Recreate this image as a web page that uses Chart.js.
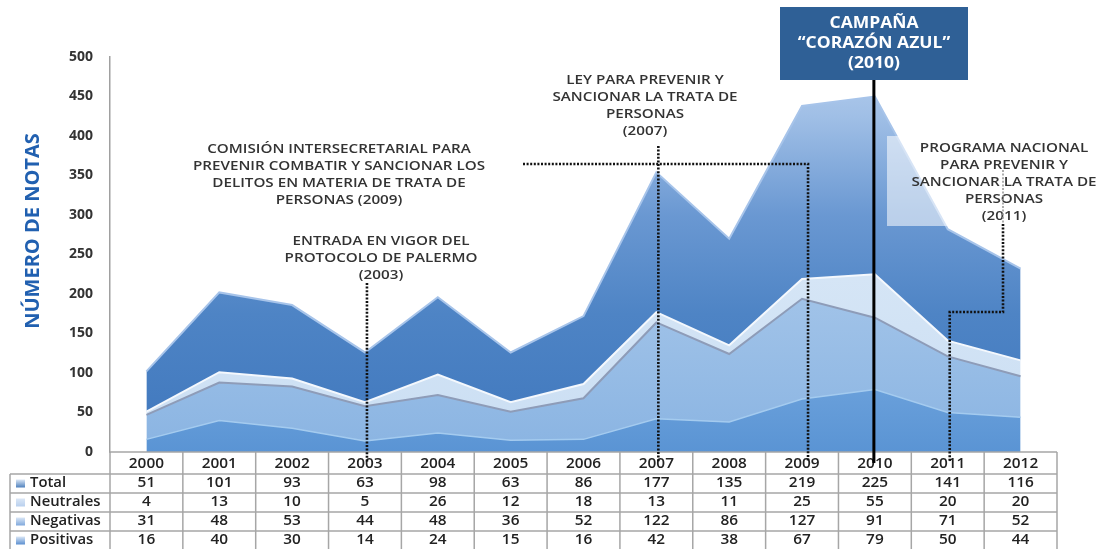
<!DOCTYPE html>
<html lang="es">
<head>
<meta charset="utf-8">
<title>Número de notas 2000-2012</title>
<script src="https://cdn.jsdelivr.net/npm/chart.js@4.4.1/dist/chart.umd.min.js"></script>
<style>
    html, body { margin: 0; padding: 0; background: #ffffff; }
    canvas { display: block; }
</style>
</head>
<body>
<canvas id="chartNotas" width="1102" height="549"></canvas>
<script>
(function () {
    'use strict';

    const years     = ['2000', '2001', '2002', '2003', '2004', '2005', '2006', '2007', '2008', '2009', '2010', '2011', '2012'];
    const positivas = [16, 40, 30, 14, 24, 15, 16, 42, 38, 67, 79, 50, 44];
    const negativas = [31, 48, 53, 44, 48, 36, 52, 122, 86, 127, 91, 71, 52];
    const neutrales = [4, 13, 10, 5, 26, 12, 18, 13, 11, 25, 55, 20, 20];
    const total     = [51, 101, 93, 63, 98, 63, 86, 177, 135, 219, 225, 141, 116];
    const yTicks    = [0, 50, 100, 150, 200, 250, 300, 350, 400, 450, 500];

    const FONT   = '"Open Sans", Lato, sans-serif';
    const TEXT   = '#333333';
    const TITLE  = '#2160b0';
    const BOX    = '#2f6096';
    const GRID   = '#a6a6a6';

    // table rows, top to bottom, with the icon colour used in each row label
    const tableRows = [
        { label: 'Total',     values: total,     icon: '#4f81bd' },
        { label: 'Neutrales', values: neutrales, icon: '#b9d0ee' },
        { label: 'Negativas', values: negativas, icon: '#7fa8dc' },
        { label: 'Positivas', values: positivas, icon: '#5b8fd0' }
    ];

    // milestones marked over the chart
    const notes = [
        { year: '2003', cx: 381, y0: 241, lines: ['ENTRADA EN VIGOR DEL', 'PROTOCOLO DE PALERMO', '(2003)'] },
        { year: '2009', cx: 339, y0: 149, lines: ['COMISIÓN INTERSECRETARIAL PARA', 'PREVENIR COMBATIR Y SANCIONAR LOS', 'DELITOS EN MATERIA DE TRATA DE', 'PERSONAS (2009)'] },
        { year: '2007', cx: 645, y0: 80, lines: ['LEY PARA PREVENIR Y', 'SANCIONAR LA TRATA DE', 'PERSONAS', '(2007)'] },
        { year: '2011', cx: 1004, y0: 148, lines: ['PROGRAMA NACIONAL', 'PARA PREVENIR Y', 'SANCIONAR LA TRATA DE', 'PERSONAS', '(2011)'] }
    ];
    const campaign = { year: '2010', lines: ['CAMPAÑA', '“CORAZÓN AZUL”', '(2010)'] };

    function vGradient(stops) {
        return function (context) {
            const area = context.chart.chartArea;
            if (!area) return stops[stops.length - 1][1];
            const g = context.chart.ctx.createLinearGradient(0, area.top, 0, area.bottom);
            stops.forEach(s => g.addColorStop(s[0], s[1]));
            return g;
        };
    }

    function dotted(ctx, pts, color, width) {
        ctx.save();
        ctx.strokeStyle = color;
        ctx.lineWidth = width;
        ctx.setLineDash([2, 1.6]);
        ctx.beginPath();
        ctx.moveTo(pts[0][0], pts[0][1]);
        for (let i = 1; i < pts.length; i++) ctx.lineTo(pts[i][0], pts[i][1]);
        ctx.stroke();
        ctx.restore();
    }

    // text drawn a little wider than the font's natural width
    function wideText(ctx, text, x, y, sx) {
        ctx.save();
        ctx.translate(x, y);
        ctx.scale(sx, 1);
        ctx.fillText(text, 0, 0);
        ctx.restore();
    }

    function textBlock(ctx, lines, cx, y0, step, font, color, sx) {
        ctx.save();
        ctx.font = font;
        ctx.fillStyle = color;
        ctx.textAlign = 'center';
        ctx.textBaseline = 'middle';
        lines.forEach((l, i) => wideText(ctx, l, cx, y0 + i * step, sx));
        ctx.restore();
    }

    // y title, data table under the plot and milestone call-outs
    const decorations = {
        id: 'decorations',
        afterDraw(chart) {
            const ctx = chart.ctx;
            const x = chart.scales.x;
            const area = chart.chartArea;
            const colW = x.getPixelForValue(1) - x.getPixelForValue(0);
            const tableLeft = 10;
            const headTop = area.bottom;
            const rowTop = headTop + 22;
            const rowH = 19;

            // axis title
            ctx.save();
            ctx.translate(33, 231);
            ctx.rotate(-Math.PI / 2);
            ctx.font = 'bold 20px ' + FONT;
            ctx.fillStyle = TITLE;
            ctx.textAlign = 'center';
            ctx.textBaseline = 'middle';
            ctx.fillText('NÚMERO DE NOTAS', 0, 0);
            ctx.restore();

            // table grid
            ctx.save();
            ctx.strokeStyle = GRID;
            ctx.lineWidth = 1.5;
            ctx.beginPath();
            ctx.moveTo(area.left, headTop);
            ctx.lineTo(area.right, headTop);
            for (let r = 0; r <= tableRows.length; r++) {
                ctx.moveTo(tableLeft, rowTop + r * rowH);
                ctx.lineTo(area.right, rowTop + r * rowH);
            }
            ctx.moveTo(tableLeft, rowTop);
            ctx.lineTo(tableLeft, chart.height);
            for (let i = 0; i <= years.length; i++) {
                const cx = area.left + i * colW;
                ctx.moveTo(cx, headTop);
                ctx.lineTo(cx, chart.height);
            }
            ctx.stroke();
            ctx.restore();

            ctx.save();
            ctx.font = '600 13.5px ' + FONT;
            ctx.fillStyle = '#222222';
            ctx.textAlign = 'center';
            ctx.textBaseline = 'middle';
            years.forEach((yr, i) => wideText(ctx, yr, x.getPixelForValue(i), headTop + 12, 1.14));
            tableRows.forEach((row, r) => {
                const cy = rowTop + r * rowH + rowH / 2;
                row.values.forEach((v, i) => wideText(ctx, String(v), x.getPixelForValue(i), cy, 1.14));
                const g = ctx.createLinearGradient(0, cy - 4, 0, cy + 4);
                g.addColorStop(0, '#dbe7f6');
                g.addColorStop(1, row.icon);
                ctx.fillStyle = g;
                ctx.fillRect(16, cy - 4, 9, 8);
                ctx.fillStyle = '#222222';
                ctx.textAlign = 'left';
                wideText(ctx, row.label, 30, cy, 1.1);
                ctx.textAlign = 'center';
            });
            ctx.restore();

            const px = yr => x.getPixelForValue(years.indexOf(yr)) + 2;
            const lineEnd = headTop + 10;

            // 2011 programme: translucent text box behind its label
            ctx.save();
            ctx.fillStyle = 'rgba(255,255,255,0.55)';
            ctx.fillRect(887, 136, chart.width - 887, 90);
            ctx.restore();

            const noteFont = '600 13px ' + FONT;
            notes.forEach(n => textBlock(ctx, n.lines, n.cx, n.y0, 17, noteFont, TEXT, 1.17));

            dotted(ctx, [[px('2003'), 283], [px('2003'), lineEnd]], '#111', 2.6);
            dotted(ctx, [[px('2007'), 146], [px('2007'), lineEnd]], '#111', 2.6);
            dotted(ctx, [[523, 164], [px('2009') + 4, 164], [px('2009') + 4, lineEnd]], '#111', 2.6);
            dotted(ctx, [[1003, 170], [1003, 224]], '#9a9a9a', 1.6);
            dotted(ctx, [[1003, 224], [1003, 312], [px('2011'), 312], [px('2011'), lineEnd]], '#111', 2.6);

            // campaign box with solid marker line
            const bx = px(campaign.year) - 3;
            ctx.save();
            ctx.strokeStyle = '#000';
            ctx.lineWidth = 3;
            ctx.beginPath();
            ctx.moveTo(bx, 80);
            ctx.lineTo(bx, headTop + 11);
            ctx.stroke();
            ctx.fillStyle = BOX;
            ctx.fillRect(780, 7, 188, 73);
            ctx.restore();
            textBlock(ctx, campaign.lines, 874, 23, 20, 'bold 16.5px ' + FONT, '#ffffff', 1.06);
        }
    };

    function render() {
        const el = document.getElementById('chartNotas');
        new Chart(el, {
            type: 'line',
            data: {
                labels: years,
                datasets: [
                    {
                        label: 'Positivas',
                        data: positivas,
                        fill: 'origin',
                        backgroundColor: vGradient([[0, '#8fbbe8'], [0.75, '#72a6de'], [1, '#5a94d4']]),
                        borderColor: '#a4cbef',
                        borderWidth: 1.5
                    },
                    {
                        label: 'Negativas',
                        data: negativas,
                        fill: '-1',
                        backgroundColor: vGradient([[0, '#c2d9f2'], [0.5, '#a7c7ea'], [1, '#8ab4e2']]),
                        borderColor: '#8e9cb8',
                        borderWidth: 2
                    },
                    {
                        label: 'Neutrales',
                        data: neutrales,
                        fill: '-1',
                        backgroundColor: vGradient([[0, '#e3eef9'], [1, '#cadef3']]),
                        borderColor: '#f4f8fd',
                        borderWidth: 2
                    },
                    {
                        label: 'Total',
                        data: total,
                        fill: '-1',
                        backgroundColor: vGradient([[0, '#b6cfee'], [0.15, '#a0bfe6'], [0.4, '#6a98d2'], [0.65, '#4e84c5'], [1, '#3f77bd']]),
                        borderColor: '#a7c4ea',
                        borderWidth: 2
                    }
                ]
            },
            options: {
                responsive: false,
                animation: false,
                layout: { padding: { top: 57, right: 45, bottom: 97, left: 0 } },
                elements: { point: { radius: 0 }, line: { tension: 0 } },
                plugins: {
                    legend: { display: false },
                    tooltip: { enabled: false }
                },
                scales: {
                    x: {
                        display: false,
                        offset: true
                    },
                    y: {
                        stacked: true,
                        min: 0,
                        max: 500,
                        afterFit(scale) { scale.width = 110; },
                        afterBuildTicks(scale) { scale.ticks = yTicks.map(v => ({ value: v })); },
                        grid: { display: false, drawTicks: false },
                        border: { display: true, color: '#a0a0a0', width: 1.5 },
                        ticks: {
                            padding: 17,
                            color: '#333333',
                            font: { family: FONT, size: 14, weight: 'bold' }
                        }
                    }
                }
            },
            plugins: [decorations]
        });
    }

    if (document.readyState === 'loading') {
        document.addEventListener('DOMContentLoaded', render);
    } else {
        render();
    }
})();
</script>
</body>
</html>
